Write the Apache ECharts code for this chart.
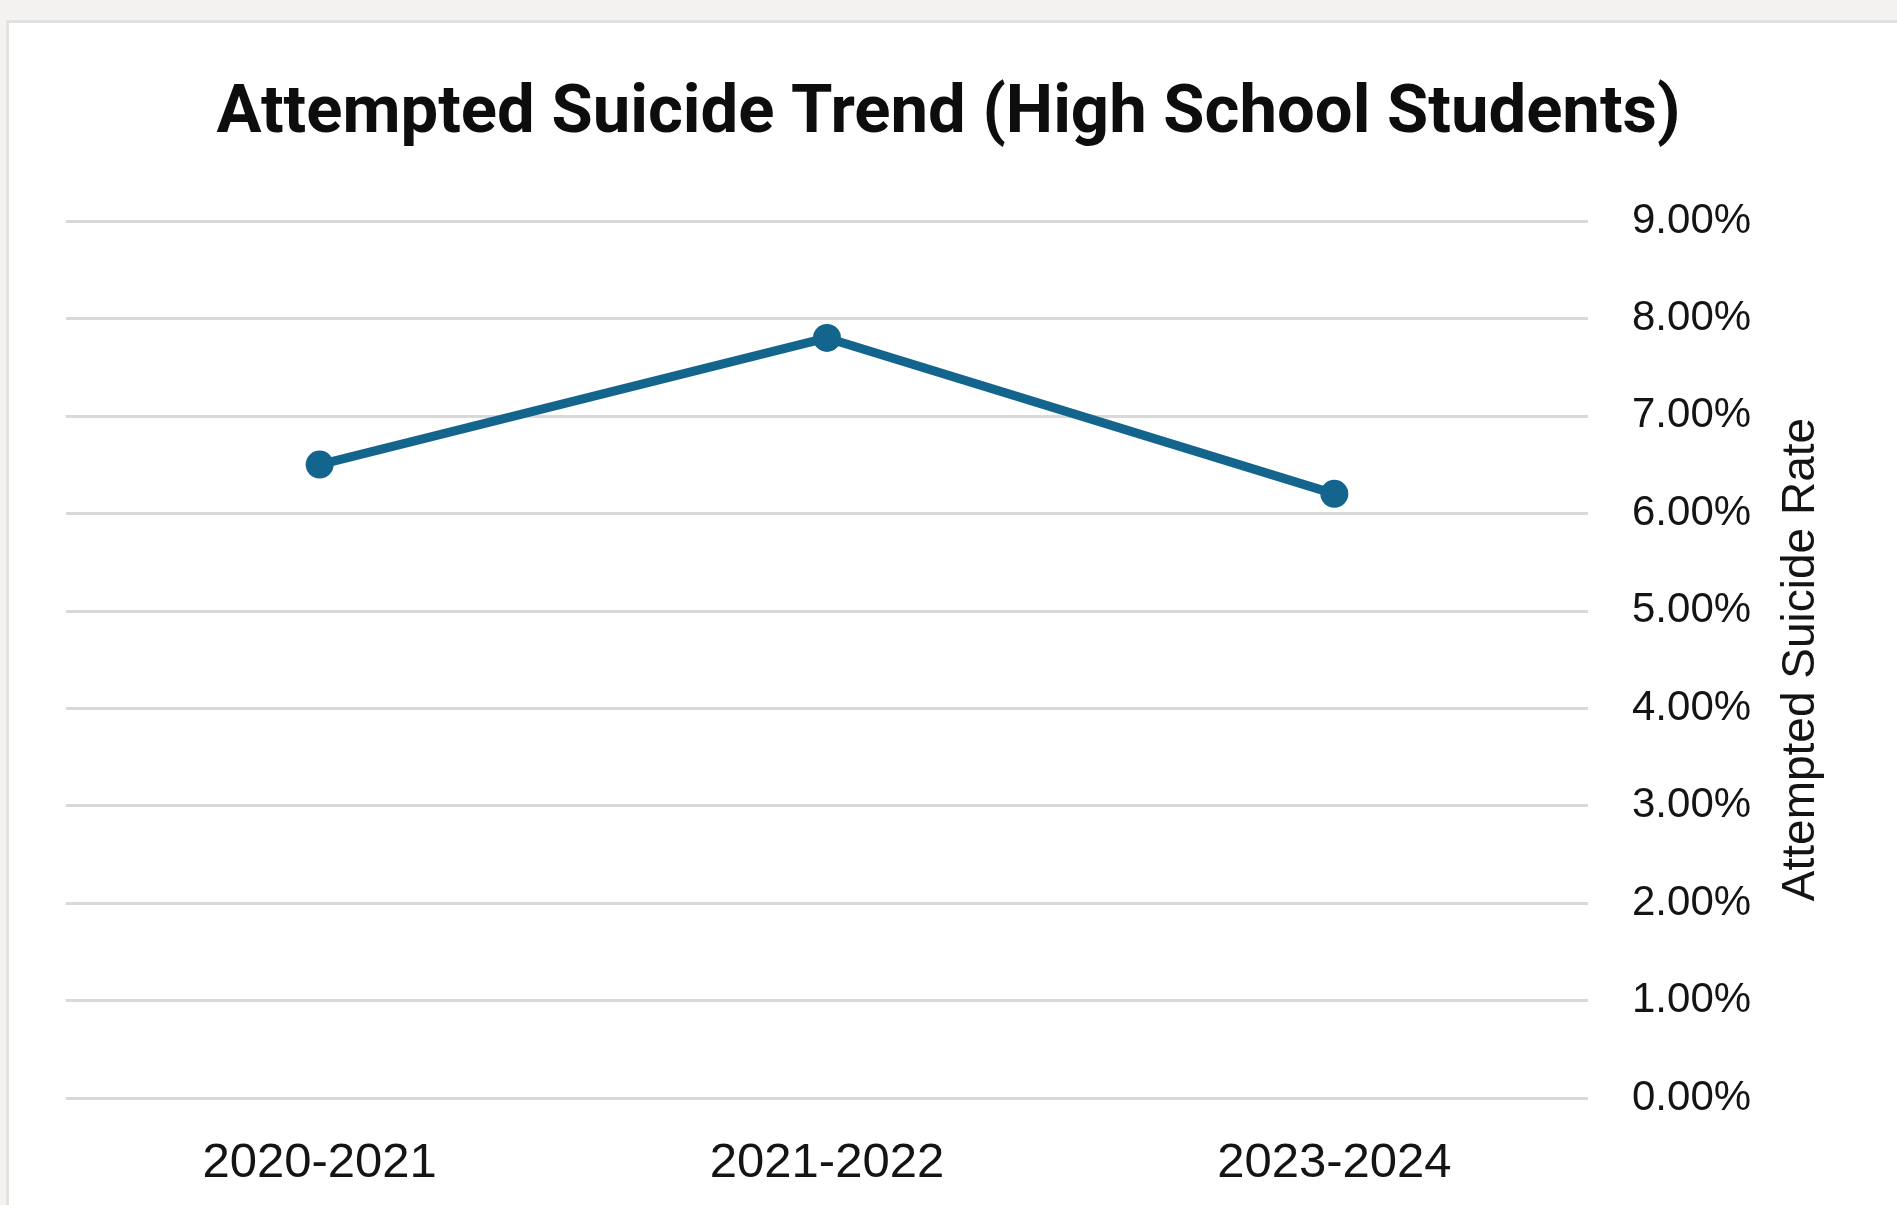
<!DOCTYPE html>
<html>
<head>
<meta charset="utf-8">
<title>Attempted Suicide Trend</title>
<script src="https://cdn.jsdelivr.net/npm/echarts@6/dist/echarts.min.js"></script>
<style>
  html, body { margin: 0; padding: 0; width: 1897px; height: 1205px; background: #f3f2f1; overflow: hidden; }
  #frame { position: absolute; left: 6px; top: 20px; right: 0; bottom: 0; background: #ffffff;
           border-left: 3px solid #e4e1e1; border-top: 3px solid #e2e1e0; }
  #chart { position: absolute; left: 0; top: 0; width: 1897px; height: 1205px; }
</style>
</head>
<body>
<div id="frame"></div>
<div id="chart"></div>
<script>
// School years on the category axis
const years = ['2020-2021', '2021-2022', '2023-2024'];
// Attempted suicide rate, percent of high school students
const rates = [6.5, 7.8, 6.2];
// Value axis range, percent
const axisMin = 0;
const axisMax = 9;
const axisStep = 1;

const chart = echarts.init(document.getElementById('chart'), null, { renderer: 'canvas' });

chart.setOption({
  backgroundColor: 'transparent',
  animation: false,
  title: {
    text: 'Attempted Suicide Trend (High School Students)',
    left: 'center',
    top: 77,
    textStyle: {
      fontFamily: 'Roboto',
      fontWeight: 'bold',
      fontSize: 67,
      color: '#0d0d0d'
    }
  },
  grid: { left: 66, right: 309, top: 221, bottom: 107 },
  xAxis: {
    type: 'category',
    data: years,
    boundaryGap: true,
    axisLine: { show: false },
    axisTick: { show: false },
    axisLabel: {
      margin: 41,
      fontFamily: 'Liberation Sans',
      fontSize: 49,
      color: '#141414'
    }
  },
  yAxis: {
    type: 'value',
    position: 'right',
    min: axisMin,
    max: axisMax,
    interval: axisStep,
    name: 'Attempted Suicide Rate',
    nameLocation: 'middle',
    nameRotate: 90,
    nameGap: 190,
    nameTextStyle: {
      fontFamily: 'Liberation Sans',
      fontSize: 46,
      color: '#141414'
    },
    axisLine: { show: false },
    axisTick: { show: false },
    splitLine: { lineStyle: { color: '#d9d9d9', width: 3 } },
    axisLabel: {
      margin: 44,
      fontFamily: 'Liberation Sans',
      fontSize: 42,
      color: '#141414',
      padding: [0, 0, 6, 0],
      formatter: v => v.toFixed(2) + '%'
    }
  },
  series: [{
    type: 'line',
    data: rates,
    symbol: 'circle',
    symbolSize: 28,
    lineStyle: { color: '#13658e', width: 9 },
    itemStyle: { color: '#13658e' }
  }]
});
</script>
</body>
</html>
